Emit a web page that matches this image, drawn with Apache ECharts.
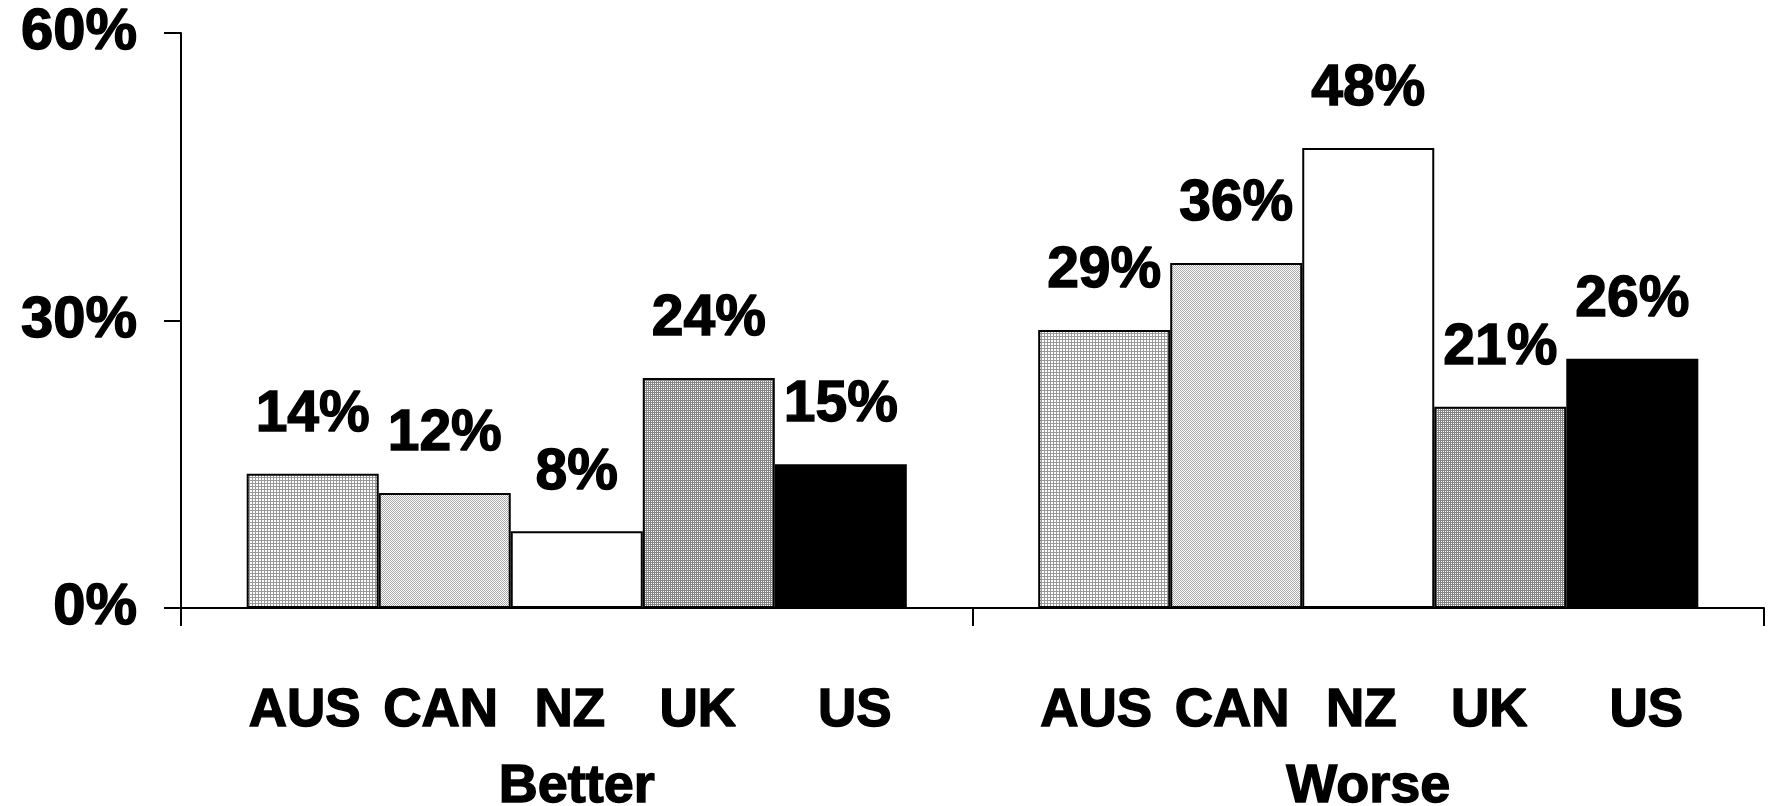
<!DOCTYPE html>
<html>
<head>
<meta charset="utf-8">
<script src="https://cdn.jsdelivr.net/npm/echarts@6/dist/echarts.min.js"></script>
<style>
  html, body { margin: 0; padding: 0; background: #fff; }
  #chart { width: 1771px; height: 806px; }
</style>
</head>
<body>
<div id="chart"></div>
<script>
  const groups = ['Better', 'Worse'];
  const countries = ['AUS', 'CAN', 'NZ', 'UK', 'US'];
  const aus = [14, 29];
  const can = [12, 36];
  const nz = [8, 48];
  const uk = [24, 21];
  const us = [15, 26];
  const yTicks = [0, 30, 60];

  const values = [aus, can, nz, uk, us];
  const font = "'Liberation Sans', Arial, sans-serif";
  // the country names are not quite centred under their bars in the original
  const nameNudge = [-8, -4, -7, -11, 14];

  // heavy black text, close to the Arial Black look of the original
  function heavy(size) {
    return {
      color: '#000',
      fontFamily: font,
      fontWeight: 'bold',
      fontSize: size,
      textBorderColor: '#000',
      textBorderWidth: 1.4
    };
  }

  // small tiled fills, like the hatching of the original
  function pattern(size, isDark, dark) {
    const c = document.createElement('canvas');
    c.width = size; c.height = size;
    const ctx = c.getContext('2d');
    for (let y = 0; y < size; y++) {
      for (let x = 0; x < size; x++) {
        ctx.fillStyle = isDark(x, y) ? dark : '#ffffff';
        ctx.fillRect(x, y, 1, 1);
      }
    }
    return { image: c, repeat: 'repeat' };
  }

  const fills = [
    pattern(3, (x, y) => x === 0 || y === 0, '#999999'),   // AUS grid
    pattern(2, (x, y) => (x + y) % 2 === 0, '#a8a8a8'),    // CAN checks
    '#ffffff',                                             // NZ
    pattern(2, (x, y) => !(x === 1 && y === 1), '#858585'),// UK dense grid
    '#000000'                                              // US
  ];

  const series = [];
  countries.forEach(function (name, i) {
    // zero-height bar in the same slot, only to carry the country name below the axis
    series.push({
      type: 'bar',
      stack: name,
      data: groups.map(() => 0),
      silent: true,
      itemStyle: { color: 'rgba(0,0,0,0)', borderWidth: 0 },
      label: Object.assign({
        show: true,
        position: 'bottom',
        distance: 77,
        offset: [nameNudge[i], 0],
        formatter: name
      }, heavy(53)),
      emphasis: { disabled: true }
    });
    series.push({
      type: 'bar',
      stack: name,
      name: name,
      data: values[i],
      barGap: 0,
      barCategoryGap: '16.6%',
      itemStyle: { color: fills[i], borderColor: '#000', borderWidth: 2 },
      label: Object.assign({
        show: true,
        position: 'top',
        distance: 30,
        formatter: '{c}%'
      }, heavy(57)),
      emphasis: { disabled: true }
    });
  });

  const chart = echarts.init(document.getElementById('chart'));
  chart.setOption({
    animation: false,
    backgroundColor: '#fff',
    grid: { left: 181, right: 7, top: 33, bottom: 198, outerBoundsMode: 'none' },
    xAxis: {
      type: 'category',
      data: groups,
      axisLine: { lineStyle: { color: '#000', width: 2 } },
      axisTick: { show: true, interval: 0, length: 18, lineStyle: { color: '#000', width: 2 } },
      axisLabel: Object.assign({ margin: 152 }, heavy(54))
    },
    yAxis: {
      type: 'value',
      min: yTicks[0],
      max: yTicks[yTicks.length - 1],
      interval: yTicks[1] - yTicks[0],
      axisLine: { show: true, lineStyle: { color: '#000', width: 2 } },
      axisTick: { show: true, length: 17, lineStyle: { color: '#000', width: 2 } },
      splitLine: { show: false },
      axisLabel: Object.assign({ formatter: '{value}%', margin: 44 }, heavy(58))
    },
    series: series
  });
</script>
</body>
</html>
